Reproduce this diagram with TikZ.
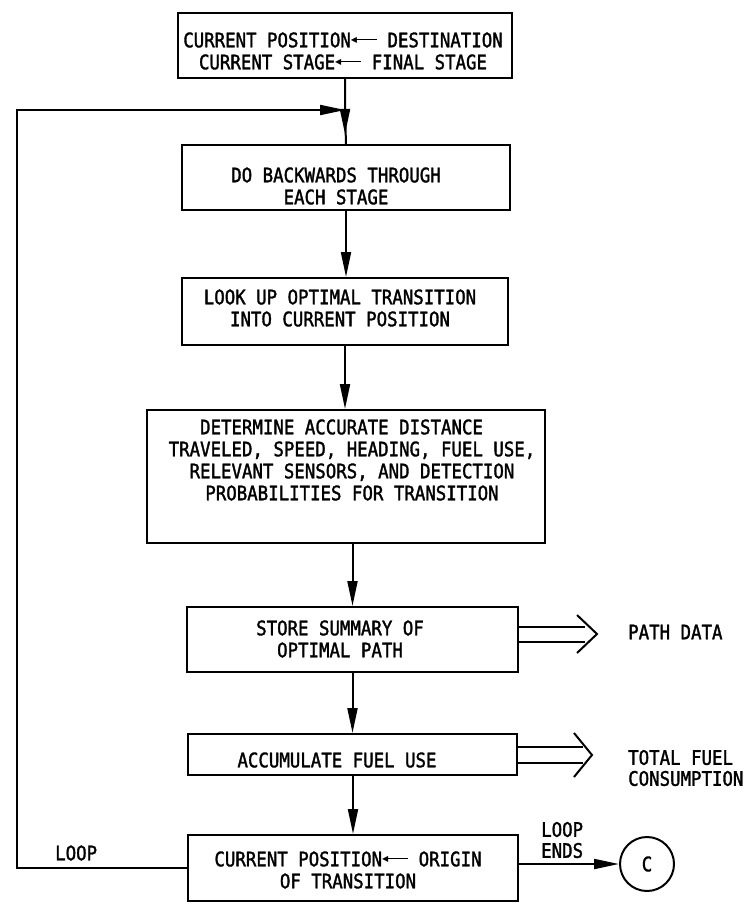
\documentclass[tikz,border=0pt]{standalone}
\usepackage{fontspec}
\newfontfamily\flowfont[FakeStretch=0.87, FakeBold=1.6]{DejaVu Sans Mono}
\newfontfamily\symbolfont{DejaVu Sans}
\usetikzlibrary{arrows.meta}

% small inline "assignment" arrow used in the box texts
\newcommand\assignarrow{\raisebox{4.5pt}{\symbolfont\fontsize{8}{8}\selectfont ◀}\kern-2pt\rule[6.8pt]{22pt}{1.6pt}}

\begin{document}
\begin{tikzpicture}[x=1pt,y=-1pt,
  box/.style={draw, line width=2pt, inner sep=0pt},
  txt/.style={font=\flowfont\fontsize{20}{22}\selectfont, align=center, inner sep=0pt},
  side/.style={font=\flowfont\fontsize{20}{21}\selectfont, align=left, anchor=west, inner sep=0pt},
  link/.style={line width=2pt},
  flow/.style={line width=2pt, -{Triangle[length=25pt,width=10pt]}}]
\useasboundingbox (0,0) rectangle (753,904);

% process boxes
\node[box, minimum width=334, minimum height=65]  (b1) at (345,45.5)  {};
\node[box, minimum width=328, minimum height=65]  (b2) at (346,177.5) {};
\node[box, minimum width=326, minimum height=67]  (b3) at (345,311.5) {};
\node[box, minimum width=398, minimum height=133] (b4) at (346,476.5) {};
\node[box, minimum width=331, minimum height=65]  (b5) at (352.5,639.5) {};
\node[box, minimum width=329, minimum height=41]  (b6) at (352.5,754.5) {};
\node[box, minimum width=330, minimum height=66]  (b7) at (353,868)   {};

% box texts
\node[txt] (t1) at (343,51) {CURRENT POSITION\assignarrow{} DESTINATION\\CURRENT STAGE\assignarrow{} FINAL STAGE};
\node[txt] (t2) at (336,186) {DO BACKWARDS THROUGH\\EACH STAGE};
\node[txt] (t3) at (340,308) {LOOK UP OPTIMAL TRANSITION\\INTO CURRENT POSITION};
\node[txt] (t4) at (352,460) {DETERMINE ACCURATE DISTANCE\phantom{AA}\\TRAVELED, SPEED, HEADING, FUEL USE,\\RELEVANT SENSORS, AND DETECTION\\PROBABILITIES FOR TRANSITION};
\node[txt] (t5) at (340,639) {STORE SUMMARY OF\\OPTIMAL PATH};
\node[txt] (t6) at (337,760) {ACCUMULATE FUEL USE};
\node[txt] (t7) at (348,870) {CURRENT POSITION\assignarrow{} ORIGIN\\OF TRANSITION};

% outputs and labels
\node[side] (pathdata) at (628,632) {PATH DATA};
\node[side] (fuel) at (628,768) {TOTAL FUEL\\CONSUMPTION};
\node[side] (loopends) at (541,840) {LOOP\\ENDS};
\node[side] (looplabel) at (55,853) {LOOP};
\node[draw, circle, line width=2pt, minimum size=54, inner sep=0pt,
      font=\flowfont\fontsize{20}{22}\selectfont] (c) at (647,864) {C};

% main flow
\coordinate (join) at (345,110);
\coordinate (joinhead) at (345,134);
\coordinate (loopcorner) at (17,110);
\draw[link] (b1.south) -- (join) -- (b2.north);
\draw[flow] (join) -- (joinhead);
\draw[flow] (b2.south) -- (b2.south |- b3.north);
\draw[flow] (b3.south) -- (b3.south |- b4.north);
\draw[flow] (b5.north |- b4.south) -- (b5.north);
\draw[flow] (b5.south) -- (b6.north);
\draw[flow] (b6.south -| b7.north) -- (b7.north);

% loop back to the top
\draw[flow] (b7.west) -| (loopcorner) -- (join);

% loop exit
\draw[flow] (b7.east |- c) -- (c.west);

% double output arrows
\coordinate (pd1) at (585,627);
\coordinate (pd2) at (585,642);
\coordinate (pdtip) at (597,634);
\draw[link] (b5.east |- pd1) -- (pd1);
\draw[link] (b5.east |- pd2) -- (pd2);
\draw[link] (pdtip) ++(-20,-19) -- (pdtip) -- ++(-20,19);

\coordinate (fu1) at (583,747);
\coordinate (fu2) at (583,763);
\coordinate (futip) at (592,755);
\draw[link] (b6.east |- fu1) -- (fu1);
\draw[link] (b6.east |- fu2) -- (fu2);
\draw[link] (futip) ++(-18,-22) -- (futip) -- ++(-18,22);
\end{tikzpicture}
\end{document}
